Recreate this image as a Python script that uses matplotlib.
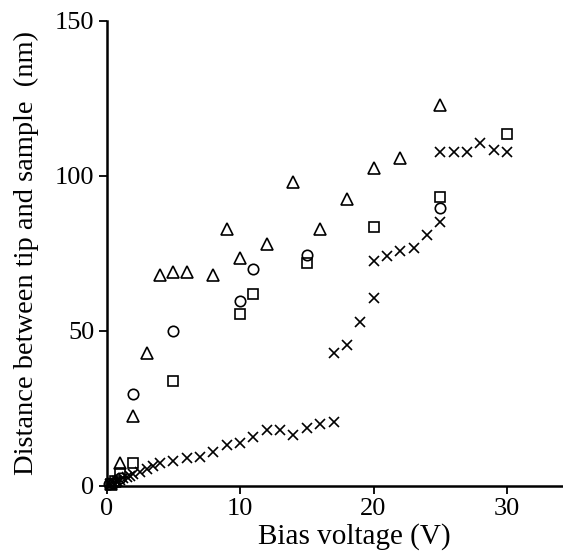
import matplotlib
matplotlib.use("Agg")
import matplotlib.pyplot as plt

# triangles
tri_x = [0.3, 0.6, 1, 2, 3, 4, 5, 6, 8, 9, 10, 12, 14, 16, 18, 20, 22, 25]
tri_y = [0.5, 1.5, 7.3, 22.5, 43, 68, 69, 69, 68, 83, 73.5, 78, 98, 83, 92.5, 102.5, 105.7, 123]

# circles
circ_x = [0.2, 0.5, 1, 2, 5, 10, 11, 15, 25]
circ_y = [0.5, 1, 2.5, 29.7, 50, 59.7, 70, 74.5, 89.6]

# squares
sq_x = [0.3, 0.6, 1, 2, 5, 10, 11, 15, 20, 25, 30]
sq_y = [0.6, 1.5, 4.1, 7.5, 34, 55.5, 62, 72, 83.5, 93.3, 113.5]

# crosses
cr_x = [0.25, 0.5, 0.75, 1, 1.25, 1.5, 1.75, 2, 2.5, 3, 3.5, 4, 5, 6, 7, 8, 9, 10,
        11, 12, 13, 14, 15, 16, 17, 17, 18, 19, 20, 20, 21, 22, 23, 24, 25,
        25, 26, 27, 28, 29, 30]
cr_y = [0.5, 1, 1.5, 2, 2.5, 3, 3.3, 3.8, 4.5, 5.5, 6.5, 7.3, 8, 8.9, 9.5, 11, 13.2, 13.8,
        15.9, 18, 18, 16.5, 18.6, 19.9, 20.5, 43, 45.5, 53, 60.5, 72.7, 74.3, 75.9, 76.7, 81, 85.3,
        107.8, 107.8, 107.8, 110.7, 108.4, 107.8]

plt.rcParams["font.family"] = ["Liberation Serif", "DejaVu Serif"]

fig = plt.figure(figsize=(5.63, 5.57), dpi=100)
ax = fig.add_axes([0.1895, 0.1275, 0.8105, 0.8348])

kw = dict(linestyle="none", markerfacecolor="none", markeredgecolor="black",
          markeredgewidth=1.2, clip_on=False)
ax.plot(tri_x, tri_y, marker="^", markersize=8.5, **kw)
ax.plot(circ_x, circ_y, marker="o", markersize=7.5, **kw)
ax.plot(sq_x, sq_y, marker="s", markersize=7.5, **kw)
ax.plot(cr_x, cr_y, marker="x", markersize=7.5, linestyle="none",
        color="black", markeredgewidth=1.2, clip_on=False)

ax.set_xlim(0, 34.2)
ax.set_ylim(0, 150)
ax.set_xticks([0, 10, 20, 30])
ax.set_yticks([0, 50, 100, 150])
ax.spines["top"].set_visible(False)
ax.spines["right"].set_visible(False)
ax.spines["left"].set_linewidth(1.8)
ax.spines["bottom"].set_linewidth(1.8)
ax.tick_params(direction="out", length=6, width=1.3, labelsize=19, pad=3)

ax.set_xlabel("Bias voltage (V)", fontsize=21, labelpad=2)
ax.xaxis.label.set_x(0.542)
ax.set_ylabel("Distance between tip and sample  (nm)", fontsize=20.5, labelpad=11)

fig.savefig("out.png", dpi=100)
